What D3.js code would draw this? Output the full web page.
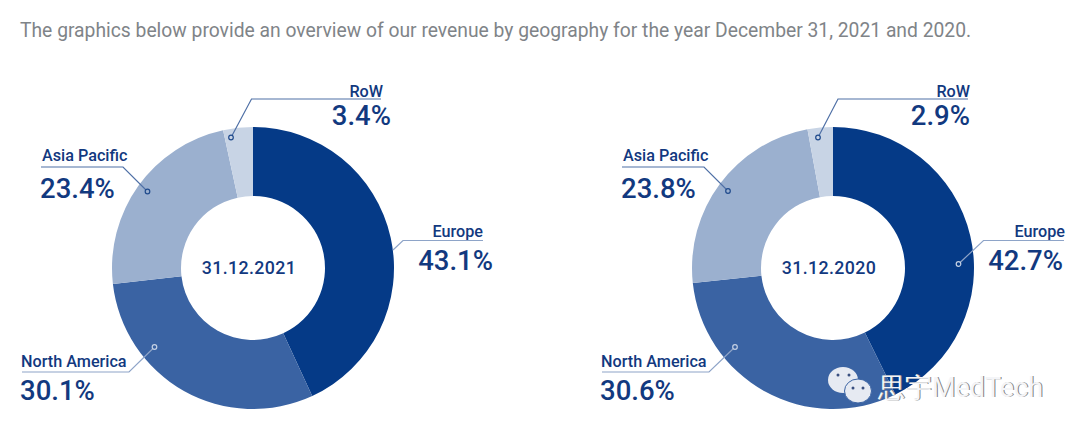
<!DOCTYPE html>
<html>
<head>
<meta charset="utf-8">
<script src="https://cdn.jsdelivr.net/npm/d3@7"></script>
<style>
  html, body { margin: 0; padding: 0; background: #fff; }
  svg { display: block; }
  text { font-family: Roboto, sans-serif; }
</style>
</head>
<body>
<script>
// Chart data
var regions = ["Europe", "North America", "Asia Pacific", "RoW"];
var values2021 = [43.1, 30.1, 23.4, 3.4];
var values2020 = [42.7, 30.6, 23.8, 2.9];
var dates = ["31.12.2021", "31.12.2020"];
var colors = ["#053a87", "#3a63a3", "#9bb0cf", "#c8d4e5"];

var svgWidth = 1080;
var svgHeight = 434;
var outerRadius = 141;
var innerRadius = 72;
var darkBlue = "#12397f";

var svg = d3.select("body")
  .append("svg")
  .attr("width", svgWidth)
  .attr("height", svgHeight);

// Intro sentence
svg.append("text")
  .attr("x", 20)
  .attr("y", 37)
  .attr("fill", "#7f8488")
  .attr("font-size", 19.3)
  .text("The graphics below provide an overview of our revenue by geography for the year December 31, 2021 and 2020.");

var pie = d3.pie().sort(null);
var arc = d3.arc().innerRadius(innerRadius).outerRadius(outerRadius);

// Label layout relative to the donut centre, same order as regions
// dot = leader start, elbow = where it bends, end = far end of the rule
var layout2021 = [
  { dot: [140, -18], hideDot: true, elbow: [150, -27.5], end: [230, -27.5], anchor: "end", nameX: 230, nameY: -31.5, valueX: 240, valueY: 1.5 },
  { dot: [-98.5, 79], elbow: [-124, 104], end: [-231, 104], anchor: "start", nameX: -232, nameY: 99, valueX: -233, valueY: 132 },
  { dot: [-105.5, -76.5], elbow: [-130, -101], end: [-212, -101], anchor: "start", nameX: -211, nameY: -107, valueX: -213, valueY: -70 },
  { dot: [-22, -130.5], elbow: [-1.5, -169], end: [128, -169], anchor: "end", nameX: 130, nameY: -171.5, valueX: 138, valueY: -143 }
];
var layout2020 = [
  { dot: [125.5, -4], elbow: [150.5, -27.5], end: [231, -27.5], anchor: "end", nameX: 232, nameY: -31.5, valueX: 230, valueY: 1.5 },
  { dot: [-98, 79], elbow: [-124, 104], end: [-231, 104], anchor: "start", nameX: -232, nameY: 99, valueX: -233, valueY: 132 },
  { dot: [-105, -77], elbow: [-129, -101], end: [-211, -101], anchor: "start", nameX: -210, nameY: -107, valueX: -212, valueY: -70 },
  { dot: [-15, -130.5], elbow: [5, -169], end: [135, -169], anchor: "end", nameX: 137, nameY: -171.5, valueX: 137, valueY: -143 }
];

function drawDonut(centerX, values, date, labelLayout) {
  var group = svg.append("g")
    .attr("transform", `translate(${centerX}, 268)`);

  group.selectAll("path.slice")
    .data(pie(values))
    .enter()
    .append("path")
    .attr("class", "slice")
    .attr("d", arc)
    .attr("fill", (d, i) => colors[i]);

  group.append("text")
    .attr("text-anchor", "middle")
    .attr("x", -4)
    .attr("y", 6)
    .attr("fill", darkBlue)
    .attr("font-size", 17.8)
    .attr("font-weight", 500)
    .attr("letter-spacing", 0.4)
    .text(date);

  regions.forEach(function(name, i) {
    var l = labelLayout[i];
    // the two dark slices get a pale leader, the pale slices a dark one
    var onDark = i < 2;

    group.append("polyline")
      .attr("points", [l.dot, l.elbow, l.end].join(" "))
      .attr("fill", "none")
      .attr("stroke", onDark ? "#8ea4c8" : "#4f70a6")
      .attr("stroke-width", 1.2);

    if (!l.hideDot) {
      group.append("circle")
        .attr("cx", l.dot[0])
        .attr("cy", l.dot[1])
        .attr("r", 2.3)
        .attr("fill", colors[i])
        .attr("stroke", onDark ? "#c5d1e4" : "#1f4a8c")
        .attr("stroke-width", 1.2);
    }

    group.append("text")
      .attr("x", l.nameX)
      .attr("y", l.nameY)
      .attr("text-anchor", l.anchor)
      .attr("fill", darkBlue)
      .attr("font-size", 16.2)
      .attr("font-weight", 500)
      .text(name);

    group.append("text")
      .attr("x", l.valueX)
      .attr("y", l.valueY)
      .attr("text-anchor", l.anchor)
      .attr("fill", darkBlue)
      .attr("font-size", 27.5)
      .attr("font-weight", 500)
      .text(values[i].toFixed(1) + "%");
  });
}

drawDonut(253, values2021, dates[0], layout2021);
drawDonut(833, values2020, dates[1], layout2020);

// Watermark
var mark = svg.append("g");
mark.append("ellipse").attr("cx", 843).attr("cy", 380).attr("rx", 15).attr("ry", 13).attr("fill", "#e6eaf2");
mark.append("ellipse").attr("cx", 858).attr("cy", 391).attr("rx", 13.5).attr("ry", 12).attr("fill", "#e6eaf2").attr("stroke", "#3a63a3").attr("stroke-width", 1);
[[838, 375], [849, 375], [853, 388], [863, 388]].forEach(function(p) {
  mark.append("circle").attr("cx", p[0]).attr("cy", p[1]).attr("r", 1.5).attr("fill", "#3a5080");
});
// grey copy behind gives the embossed look
mark.append("text")
  .attr("x", 879)
  .attr("y", 397)
  .attr("fill", "#7d7d7d")
  .attr("font-family", "'Noto Sans CJK SC', sans-serif")
  .attr("font-size", 27)
  .attr("textLength", 165)
  .text("思宇MedTech");
mark.append("text")
  .attr("x", 878)
  .attr("y", 396.5)
  .attr("fill", "#f4f5f8")
  .attr("font-family", "'Noto Sans CJK SC', sans-serif")
  .attr("font-size", 27)
  .attr("textLength", 165)
  .text("思宇MedTech");
</script>
</body>
</html>
